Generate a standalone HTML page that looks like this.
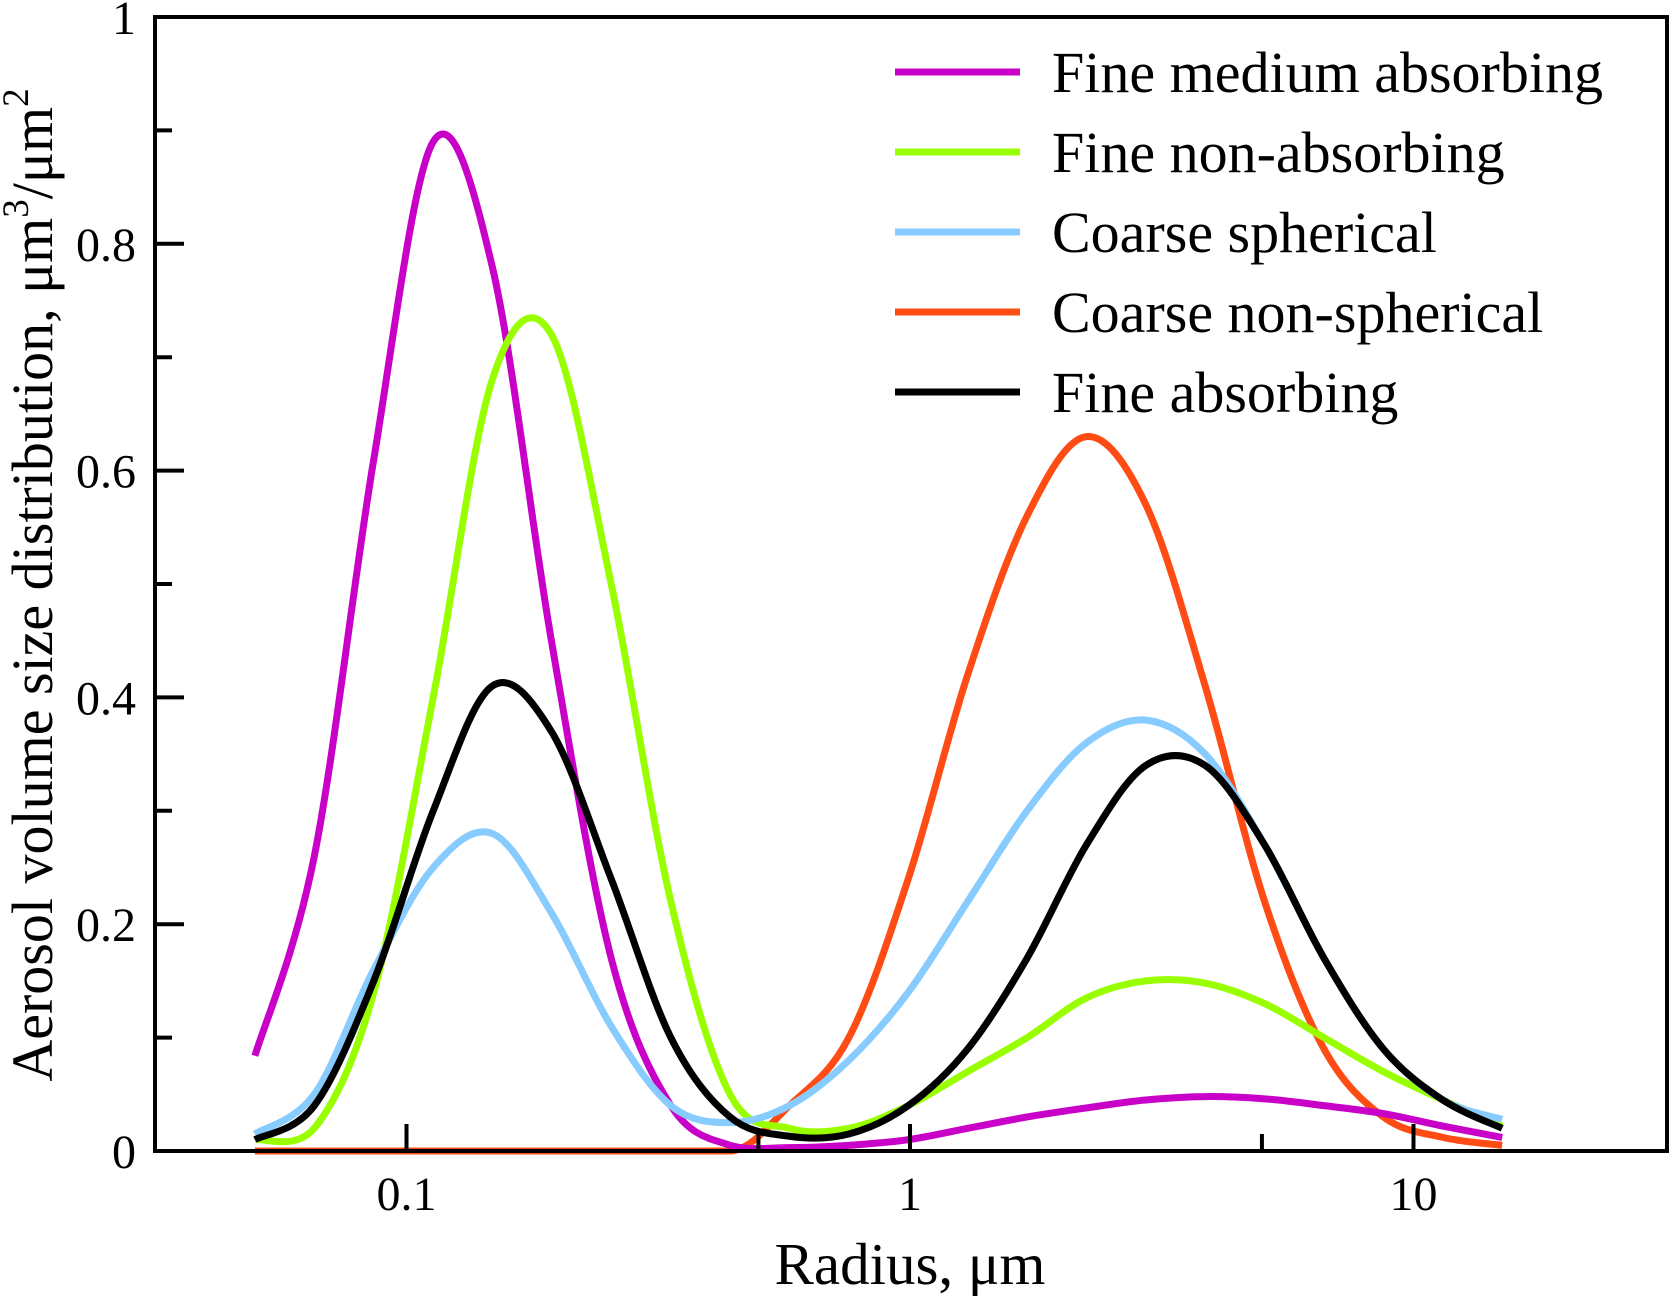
<!DOCTYPE html>
<html><head><meta charset="utf-8"><style>
html,body{margin:0;padding:0;background:#fff}
svg{display:block;font-family:"Liberation Serif",serif}
</style></head><body>
<svg id="chart" width="1670" height="1296" viewBox="0 0 1670 1296" xmlns="http://www.w3.org/2000/svg">
<g id="plot"></g>
<text x="910" y="1284" font-size="59" text-anchor="middle">Radius, μm</text>
<text transform="translate(52,585) rotate(-90)" font-size="58" text-anchor="middle">Aerosol volume size distribution, μm<tspan dy="-24" font-size="37">3</tspan><tspan dy="24">/μm</tspan><tspan dy="-24" font-size="37">2</tspan></text>
</svg>
<script>
const radii=[0.05,0.0656,0.0861,0.113,0.148,0.194,0.255,0.335,0.439,0.576,0.756,0.992,1.302,1.708,2.241,2.940,3.857,5.061,6.641,8.713,11.432,15.0];
const fineMedium=[0.084,0.26,0.61,0.89,0.78,0.45,0.17,0.04,0.005,0.003,0.005,0.01,0.02,0.03,0.038,0.045,0.048,0.046,0.04,0.033,0.022,0.012];
const fineNon=[0.01,0.02,0.14,0.40,0.68,0.72,0.50,0.22,0.05,0.02,0.02,0.04,0.07,0.10,0.135,0.15,0.148,0.13,0.10,0.07,0.045,0.022];
const coarseSph=[0.015,0.05,0.16,0.25,0.28,0.21,0.11,0.04,0.025,0.04,0.08,0.14,0.22,0.30,0.36,0.38,0.35,0.27,0.17,0.09,0.045,0.028];
const coarseNon=[0,0,0,0,0,0,0,0,0,0.04,0.10,0.24,0.42,0.56,0.63,0.57,0.41,0.22,0.09,0.03,0.012,0.005];
const fineAbs=[0.01,0.04,0.15,0.30,0.41,0.37,0.24,0.10,0.03,0.013,0.015,0.04,0.09,0.17,0.27,0.34,0.34,0.27,0.17,0.09,0.045,0.02];
const seriesNames=["Fine medium absorbing","Fine non-absorbing","Coarse spherical","Coarse non-spherical","Fine absorbing"];
const yTicks=[0,0.2,0.4,0.6,0.8,1];
const yTickLabels=["0","0.2","0.4","0.6","0.8","1"];
const xTicks=[0.1,1,10];
const xTickLabels=["0.1","1","10"];

const L=155,R=1667,T=17,B=1151;
const X=r=>910+503.5*Math.log10(r);
const Y=v=>B-(B-T)*v;
const NS="http://www.w3.org/2000/svg";
const g=document.getElementById('plot');
function mk(t,a){const e=document.createElementNS(NS,t);for(const k in a)e.setAttribute(k,a[k]);g.appendChild(e);return e;}
const series=[[fineMedium,"#c800c8"],[fineNon,"#99ff00"],[coarseSph,"#88ccff"],[coarseNon,"#ff4b14"],[fineAbs,"#000"]];
const drawOrder=[3,0,1,2,4];
drawOrder.forEach(i=>{
  const [vals,col]=series[i];
  const p=radii.map((r,k)=>[X(r),Y(vals[k])]);
  let d="M"+p[0][0]+","+p[0][1];
  for(let k=0;k<p.length-1;k++){
    const p0=p[Math.max(k-1,0)],p1=p[k],p2=p[k+1],p3=p[Math.min(k+2,p.length-1)];
    const c1=[p1[0]+(p2[0]-p0[0])/6,Math.min(B,p1[1]+(p2[1]-p0[1])/6)];
    const c2=[p2[0]-(p3[0]-p1[0])/6,Math.min(B,p2[1]-(p3[1]-p1[1])/6)];
    if(p1[1]>=B-0.5&&p2[1]>=B-0.5){d+=" L"+p2;continue;}
    if(p1[1]>=B-0.5){c1[1]=B;}
    d+=" C"+c1+" "+c2+" "+p2;
  }
  const e=mk('path',{d:d,fill:"none",stroke:col,"stroke-width":7,"stroke-linejoin":"round"});
  
  
});
const fr=mk('rect',{x:L,y:T,width:R-L,height:B-T,fill:"none",stroke:"#000","stroke-width":4});


for(let v=0.1;v<1;v+=0.2){mk('line',{x1:L,x2:L+17,y1:Y(v),y2:Y(v),stroke:"#000","stroke-width":4});}
yTicks.forEach((v,i)=>{
  if(v>0&&v<1)mk('line',{x1:L,x2:L+29,y1:Y(v),y2:Y(v),stroke:"#000","stroke-width":4});
  const t=mk('text',{x:136,y:Y(v)+17,"font-size":48,"text-anchor":"end"});
  t.textContent=yTickLabels[i];
  
  
});
[0.5,5].forEach(r=>mk('line',{x1:X(r),x2:X(r),y1:B,y2:B-17,stroke:"#000","stroke-width":4}));
xTicks.forEach((r,i)=>{
  mk('line',{x1:X(r),x2:X(r),y1:B,y2:B-27,stroke:"#000","stroke-width":4});
  const t=mk('text',{x:X(r),y:1210,"font-size":48,"text-anchor":"middle"});
  t.textContent=xTickLabels[i];
  
  
});
[0,1,2,3,4].forEach((i,k)=>{
  const y=72+k*80;
  const ln=mk('line',{x1:895,x2:1020,y1:y,y2:y,stroke:series[i][1],"stroke-width":7});
  
  
  const t=mk('text',{x:1052,y:y+20,"font-size":58});
  t.textContent=seriesNames[i];
  
  
});
</script>
</body></html>
